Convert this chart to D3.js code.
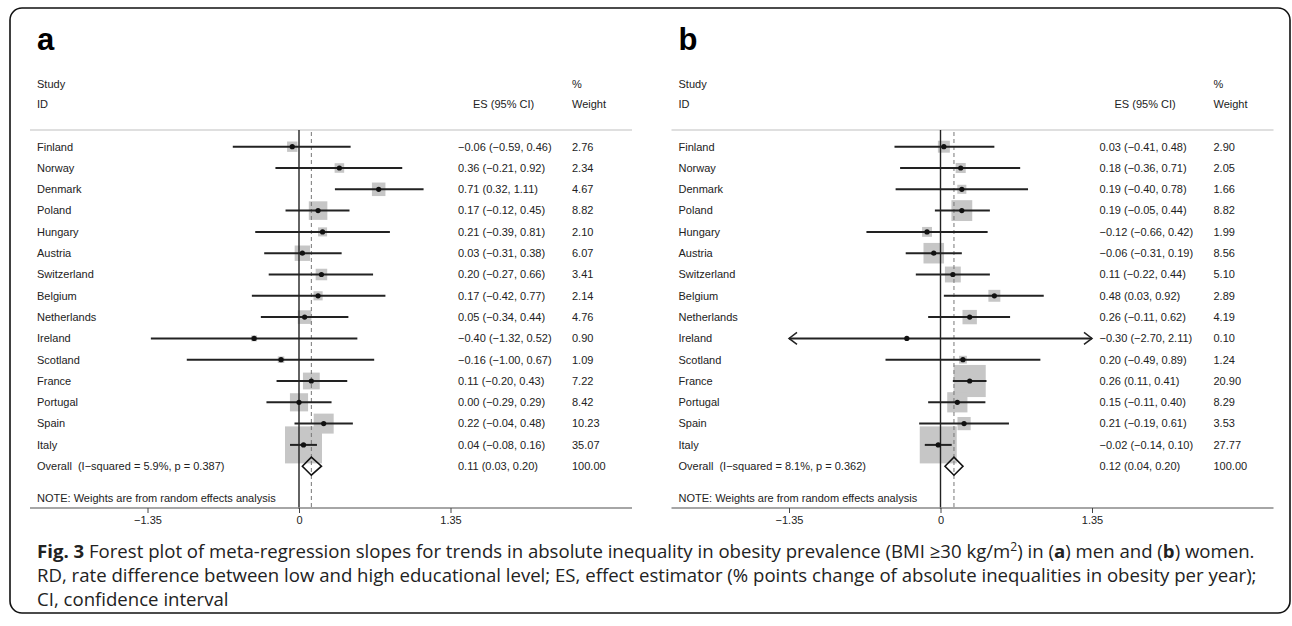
<!DOCTYPE html>
<html><head><meta charset="utf-8">
<script src="https://cdn.jsdelivr.net/npm/d3@7"></script>
<style>
html,body{margin:0;padding:0;background:#fff;}
svg text{white-space:pre;}
</style></head>
<body>
<svg id="chart" width="1292" height="626"></svg>
<script>
// ---------- data ----------
const countries = ["Finland","Norway","Denmark","Poland","Hungary","Austria","Switzerland","Belgium","Netherlands","Ireland","Scotland","France","Portugal","Spain","Italy"];

const menES = [-0.06, 0.36, 0.71, 0.17, 0.21, 0.03, 0.20, 0.17, 0.05, -0.40, -0.16, 0.11, 0.00, 0.22, 0.04];
const menLo = [-0.59, -0.21, 0.32, -0.12, -0.39, -0.31, -0.27, -0.42, -0.34, -1.32, -1.00, -0.20, -0.29, -0.04, -0.08];
const menHi = [0.46, 0.92, 1.11, 0.45, 0.81, 0.38, 0.66, 0.77, 0.44, 0.52, 0.67, 0.43, 0.29, 0.48, 0.16];
const menW  = [2.76, 2.34, 4.67, 8.82, 2.10, 6.07, 3.41, 2.14, 4.76, 0.90, 1.09, 7.22, 8.42, 10.23, 35.07];
const menOverall = [0.11, 0.03, 0.20, 100.00];
const menHet = ["5.9%", "0.387"];

const womenES = [0.03, 0.18, 0.19, 0.19, -0.12, -0.06, 0.11, 0.48, 0.26, -0.30, 0.20, 0.26, 0.15, 0.21, -0.02];
const womenLo = [-0.41, -0.36, -0.40, -0.05, -0.66, -0.31, -0.22, 0.03, -0.11, -2.70, -0.49, 0.11, -0.11, -0.19, -0.14];
const womenHi = [0.48, 0.71, 0.78, 0.44, 0.42, 0.19, 0.44, 0.92, 0.62, 2.11, 0.89, 0.41, 0.40, 0.61, 0.10];
const womenW  = [2.90, 2.05, 1.66, 8.82, 1.99, 8.56, 5.10, 2.89, 4.19, 0.10, 1.24, 20.90, 8.29, 3.53, 27.77];
const womenOverall = [0.12, 0.04, 0.20, 100.00];
const womenHet = ["8.1%", "0.362"];

const tickValues = [-1.35, 0, 1.35];
const tickLabels = ["\u22121.35", "0", "1.35"];
const panelLetters = ["a", "b"];

// ---------- drawing ----------
const svg = d3.select("#chart");
const FONT = "'Liberation Sans', Arial, Helvetica, sans-serif";
const TXT = "#222";

svg.append("rect").attr("x",10).attr("y",8).attr("width",1280).attr("height",605)
  .attr("rx",12).attr("fill","none").attr("stroke","#111").attr("stroke-width",1.6);

const rowY = d3.scalePoint().domain([...countries, "Overall"]).range([146.7, 466.2]);
const f2 = d3.format(".2f");

function panel(dx, letter, es, lo, hi, w, overall, het) {
  const g = svg.append("g").attr("transform", `translate(${dx},0)`);
  const x = d3.scaleLinear().domain([-1.35, 1.35]).range([147.5, 450.5]);
  const wMax = d3.max(w);
  const side = d3.scaleSqrt().domain([0, wMax]).range([0, 37]);
  const data = countries.map((c,i)=>({c, es:es[i], lo:lo[i], hi:hi[i], w:w[i]}));

  g.append("text").attr("x",37).attr("y",50).text(letter)
    .attr("font-family",FONT).attr("font-weight","bold").attr("font-size",31).attr("fill","#000");

  const t = (x0,y0,s,anchor) => g.append("text").attr("x",x0).attr("y",y0).attr("dy","0.35em")
      .attr("font-family",FONT).attr("font-size",11).attr("fill",TXT)
      .attr("text-anchor",anchor||"start").text(s);
  t(37,84,"Study"); t(37,104,"ID");
  t(473,104,"ES (95% CI)");
  t(572,84,"%"); t(572,104,"Weight");

  // header line
  g.append("line").attr("x1",30).attr("x2",632).attr("y1",130).attr("y2",130)
    .attr("stroke","#d4d4d4").attr("stroke-width",1.5);

  // boxes
  g.selectAll("rect.box").data(data).join("rect").attr("class","box")
    .attr("x",d=>x(d.es)-side(d.w)/2).attr("y",d=>rowY(d.c)-side(d.w)/2)
    .attr("width",d=>side(d.w)).attr("height",d=>side(d.w)).attr("fill","#c6c6c6");

  // zero line
  g.append("line").attr("x1",x(0)).attr("x2",x(0)).attr("y1",130).attr("y2",509)
    .attr("stroke","#222").attr("stroke-width",1.4);
  // overall dashed line
  g.append("line").attr("x1",x(overall[0])).attr("x2",x(overall[0])).attr("y1",132).attr("y2",508)
    .attr("stroke","#777").attr("stroke-width",1).attr("stroke-dasharray","4,3");

  // CI lines (clipped with arrows)
  const [dmin, dmax] = x.domain();
  g.selectAll("line.ci").data(data).join("line").attr("class","ci")
    .attr("x1",d=>x(Math.max(d.lo,dmin))).attr("x2",d=>x(Math.min(d.hi,dmax)))
    .attr("y1",d=>rowY(d.c)).attr("y2",d=>rowY(d.c))
    .attr("stroke","#222").attr("stroke-width",2);
  data.forEach(d=>{
    const y = rowY(d.c);
    if (d.lo < dmin) {
      const xa = x(dmin);
      g.append("path").attr("d",`M${xa+8},${y-6}L${xa},${y}L${xa+8},${y+6}`)
        .attr("fill","none").attr("stroke","#222").attr("stroke-width",1.5);
    }
    if (d.hi > dmax) {
      const xa = x(dmax);
      g.append("path").attr("d",`M${xa-8},${y-6}L${xa},${y}L${xa-8},${y+6}`)
        .attr("fill","none").attr("stroke","#222").attr("stroke-width",1.5);
    }
  });
  // point estimates
  g.selectAll("circle.pt").data(data).join("circle").attr("class","pt")
    .attr("cx",d=>x(d.es)).attr("cy",d=>rowY(d.c)).attr("r",2.6).attr("fill","#111");

  // overall diamond
  const yo = rowY("Overall");
  g.append("path")
    .attr("d",`M${x(overall[1])},${yo}L${x(overall[0])},${yo-9}L${x(overall[2])},${yo}L${x(overall[0])},${yo+9}Z`)
    .attr("fill","none").attr("stroke","#111").attr("stroke-width",1.6);

  // row labels and values
  data.forEach(d=>{
    const y = rowY(d.c);
    t(37,y,d.c);
    t(458,y,`${f2(d.es)} (${f2(d.lo)}, ${f2(d.hi)})`);
    t(572,y,f2(d.w));
  });
  t(37,yo,`Overall  (I\u2212squared = ${het[0]}, p = ${het[1]})`);
  t(458,yo,`${f2(overall[0])} (${f2(overall[1])}, ${f2(overall[2])})`);
  t(572,yo,f2(overall[3]));
  t(37,498,"NOTE: Weights are from random effects analysis");

  // axis
  g.append("line").attr("x1",30).attr("x2",632).attr("y1",508).attr("y2",508)
    .attr("stroke","#888").attr("stroke-width",1.5);
  const ax = g.append("g").attr("transform","translate(0,508)")
    .call(d3.axisBottom(x).tickValues(tickValues).tickFormat((v,i)=>tickLabels[i]).tickSize(5).tickPadding(3));
  ax.select(".domain").remove();
  ax.selectAll(".tick line").attr("stroke","#444").attr("stroke-width",1);
  ax.selectAll(".tick text").attr("font-family",FONT).attr("font-size",11).attr("fill",TXT);
}

panel(0, panelLetters[0], menES, menLo, menHi, menW, menOverall, menHet);
panel(641.5, panelLetters[1], womenES, womenLo, womenHi, womenW, womenOverall, womenHet);

// ---------- caption ----------
const CAP = "'Open Sans', 'Noto Sans', sans-serif";
const cap = svg.append("g").attr("font-family",CAP).attr("fill","#222");
const l1 = cap.append("text").attr("x",37).attr("y",557.5);
l1.append("tspan").attr("font-weight","bold").text("Fig. 3");
l1.append("tspan").text(" Forest plot of meta-regression slopes for trends in absolute inequality in obesity prevalence (BMI \u226530 kg/m");
l1.append("tspan").attr("dy",-7).attr("font-size","0.65em").text("2");
l1.append("tspan").attr("dy",7).text(") in (");
l1.append("tspan").attr("font-weight","bold").text("a");
l1.append("tspan").text(") men and (");
l1.append("tspan").attr("font-weight","bold").text("b");
l1.append("tspan").text(") women.");
const l2 = cap.append("text").attr("x",37).attr("y",581.5)
  .text("RD, rate difference between low and high educational level; ES, effect estimator (% points change of absolute inequalities in obesity per year);");
const l3 = cap.append("text").attr("x",37).attr("y",605.5).text("CI, confidence interval");
// fit caption size so the first line spans the same width as in the figure
cap.attr("font-size",17);
const w1 = l1.node().getComputedTextLength();
const fs = 17 * 1218 / w1;
cap.attr("font-size",fs);
</script>
</body></html>
